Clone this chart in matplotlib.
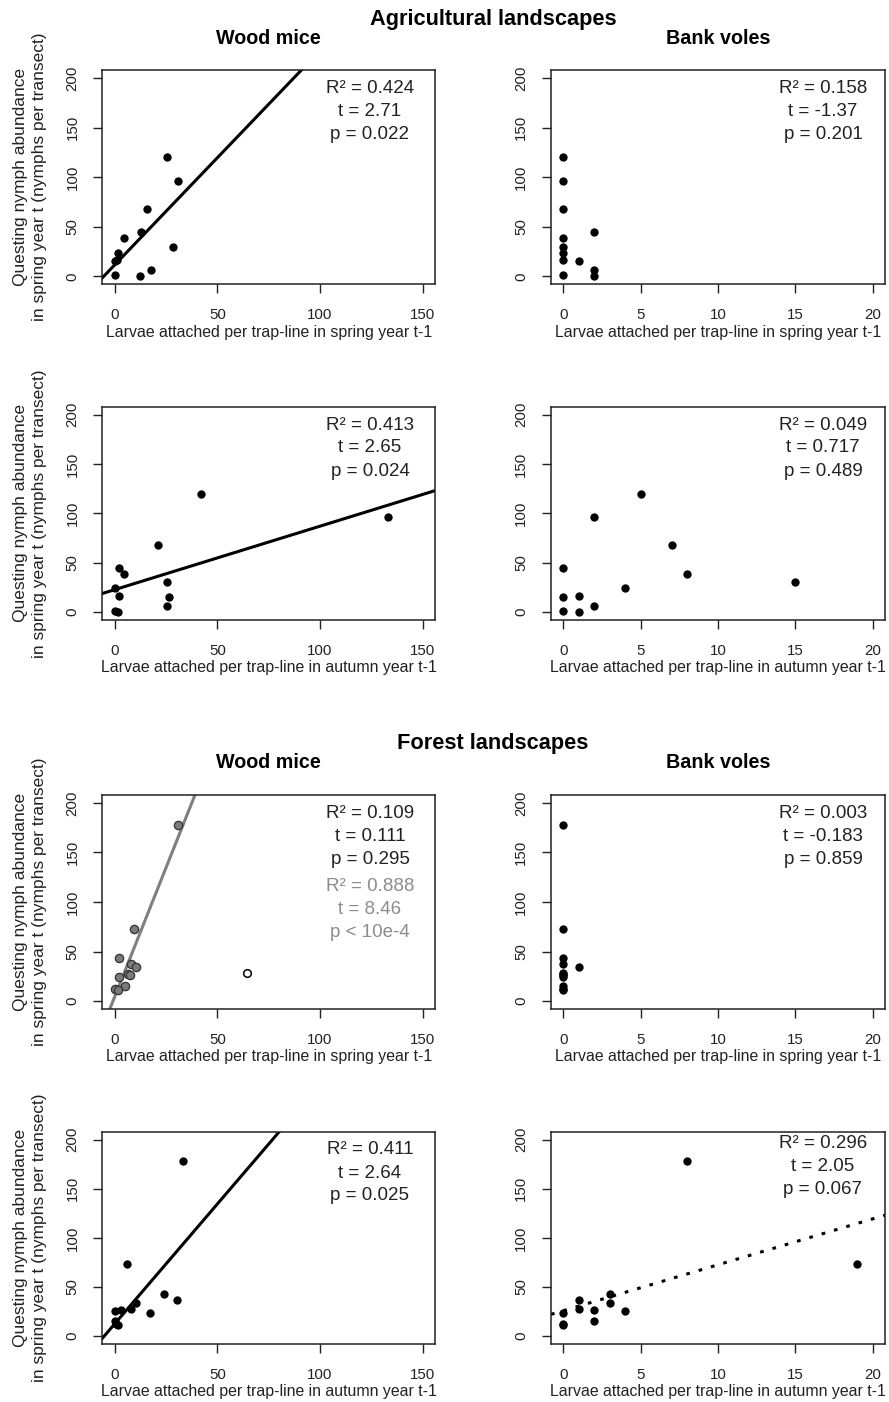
import matplotlib.pyplot as plt

plt.rcParams['font.family'] = ['Liberation Sans', 'DejaVu Sans']

W, H = 889, 1402

# questing nymphs per transect, one value per site
agri_nymphs = [120, 96, 68, 45, 39, 30, 24, 16, 15, 6, 1.5, 0]
forest_nymphs = [178, 73, 43, 37, 34, 28, 27, 26, 24, 15, 12, 11]

# larvae attached per trap-line in year t-1, same site order
agri_mice_spring = [25.5, 31, 16, 13, 4.5, 28.5, 1.5, 1, 0, 17.5, 0, 12.5]
agri_voles_spring = [0, 0, 0, 2, 0, 0, 0, 0, 1, 2, 0, 2]
agri_mice_autumn = [42.3, 133, 21, 2.3, 4.4, 25.5, 0, 2.3, 26.3, 25.5, 0, 1.6]
agri_voles_autumn = [5, 2, 7, 0, 8, 15, 4, 1, 0, 2, 0, 1]
forest_mice_spring = [31, 9.4, 2.3, 8, 10.3, 64.5, 6.5, 7.6, 2.3, 5.2, 0, 1.6]
forest_voles_spring = [0, 0, 0, 0, 1, 0, 0, 0, 0, 0, 0, 0]
forest_mice_autumn = [33.4, 6, 24, 30.5, 10.2, 8.1, 2.9, 0, 17.4, 0, 0.5, 1.6]
forest_voles_autumn = [8, 19, 3, 1, 3, 1, 2, 4, 0, 2, 0, 0]

# site dropped from the grey fit (forest, wood mice, spring)
forest_outlier = 5

# regression lines: intercept, slope
fit_agri_mice_spring = (11.5, 2.16)
fit_agri_mice_autumn = (22.7, 0.643)
fit_forest_mice_spring = (4.25, 5.21)
fit_forest_mice_autumn = (12.4, 2.44)
fit_forest_voles_autumn = (25.9, 4.67)

stats_agri_mice_spring = ["R² = 0.424", "t = 2.71", "p = 0.022"]
stats_agri_voles_spring = ["R² = 0.158", "t = -1.37", "p = 0.201"]
stats_agri_mice_autumn = ["R² = 0.413", "t = 2.65", "p = 0.024"]
stats_agri_voles_autumn = ["R² = 0.049", "t = 0.717", "p = 0.489"]
stats_forest_mice_spring = ["R² = 0.109", "t = 0.111", "p = 0.295"]
stats_forest_mice_spring_grey = ["R² = 0.888", "t = 8.46", "p < 10e-4"]
stats_forest_voles_spring = ["R² = 0.003", "t = -0.183", "p = 0.859"]
stats_forest_mice_autumn = ["R² = 0.411", "t = 2.64", "p = 0.025"]
stats_forest_voles_autumn = ["R² = 0.296", "t = 2.05", "p = 0.067"]

mice_ticks = [0, 50, 100, 150]
vole_ticks = [0, 5, 10, 15, 20]
nymph_ticks = [0, 50, 100, 150, 200]

xlab_spring = "Larvae attached per trap-line in spring year t-1"
xlab_autumn = "Larvae attached per trap-line in autumn year t-1"
ylab = "Questing nymph abundance\nin spring year t (nymphs per transect)"

cols = [(102.3, 435.0), (551.0, 885.0)]
rows = [(70.0, 284.3), (406.7, 620.0), (795.0, 1009.0), (1131.7, 1344.0)]

fig = plt.figure(figsize=(W / 100, H / 100), dpi=100)


def make_axes(r, c):
    x0, x1 = cols[c]
    y0, y1 = rows[r]
    ax = fig.add_axes([x0 / W, 1 - y1 / H, (x1 - x0) / W, (y1 - y0) / H])
    if c == 0:
        ax.set_xlim(-6, 156)
        ax.set_xticks(mice_ticks)
    else:
        ax.set_xlim(-0.8, 20.8)
        ax.set_xticks(vole_ticks)
    ax.set_ylim(-8, 208)
    ax.set_yticks(nymph_ticks)
    ax.set_yticklabels([str(v) for v in nymph_ticks], rotation=90, va='center')
    ax.tick_params(direction='out', length=6.5, width=1, labelsize=10.8,
                   color='#222222', labelcolor='#222222')
    ax.tick_params(axis='x', pad=10.5)
    ax.tick_params(axis='y', pad=10)
    for s in ax.spines.values():
        s.set_linewidth(1.1)
        s.set_color('#222222')
    ax.set_xlabel(xlab_spring if r % 2 == 0 else xlab_autumn, fontsize=11.4,
                  labelpad=2, color='#222222')
    if c == 0:
        fig.text(30 / W, 1 - (y0 + y1) / 2 / H, ylab, rotation=90,
                 ha='center', va='center', fontsize=12.5, linespacing=1.3,
                 color='#222222')
    return ax


def dots(ax, x, y):
    ax.scatter(x, y, s=36, color='black', zorder=3, linewidths=0)


def stats(ax, r, c, lines, top=18.3, color='#222222'):
    y0, y1 = rows[r]
    x0, x1 = cols[c]
    cx = 370 if c == 0 else 823
    for i, t in enumerate(lines):
        fy = 1 - (top + 23 * i) / (y1 - y0)
        ax.text((cx - x0) / (x1 - x0), fy, t, transform=ax.transAxes,
                ha='center', va='center', fontsize=13.5, color=color)


def fit_line(ax, fit, **kw):
    a, b = fit
    ax.axline((0, a), slope=b, **kw)


# agricultural landscapes
ax = make_axes(0, 0)
dots(ax, agri_mice_spring, agri_nymphs)
fit_line(ax, fit_agri_mice_spring, color='black', lw=2.2)
stats(ax, 0, 0, stats_agri_mice_spring)

ax = make_axes(0, 1)
dots(ax, agri_voles_spring, agri_nymphs)
stats(ax, 0, 1, stats_agri_voles_spring)

ax = make_axes(1, 0)
dots(ax, agri_mice_autumn, agri_nymphs)
fit_line(ax, fit_agri_mice_autumn, color='black', lw=2.2)
stats(ax, 1, 0, stats_agri_mice_autumn)

ax = make_axes(1, 1)
dots(ax, agri_voles_autumn, agri_nymphs)
stats(ax, 1, 1, stats_agri_voles_autumn)

# forest landscapes
ax = make_axes(2, 0)
keep = [i for i in range(len(forest_nymphs)) if i != forest_outlier]
ax.scatter([forest_mice_spring[i] for i in keep], [forest_nymphs[i] for i in keep],
           s=36, facecolor='#7a7a7a', edgecolor='#333333', linewidths=0.9, zorder=3)
ax.scatter([forest_mice_spring[forest_outlier]], [forest_nymphs[forest_outlier]],
           s=30, facecolor='white', edgecolor='black', linewidths=1.1, zorder=3)
fit_line(ax, fit_forest_mice_spring, color='#7f7f7f', lw=2.2)
stats(ax, 2, 0, stats_forest_mice_spring)
stats(ax, 2, 0, stats_forest_mice_spring_grey, top=91.7, color='#8c8c8c')

ax = make_axes(2, 1)
dots(ax, forest_voles_spring, forest_nymphs)
stats(ax, 2, 1, stats_forest_voles_spring)

ax = make_axes(3, 0)
dots(ax, forest_mice_autumn, forest_nymphs)
fit_line(ax, fit_forest_mice_autumn, color='black', lw=2.2)
stats(ax, 3, 0, stats_forest_mice_autumn)

ax = make_axes(3, 1)
dots(ax, forest_voles_autumn, forest_nymphs)
fit_line(ax, fit_forest_voles_autumn, color='black', lw=2.2,
         linestyle=(0, (1.2, 3)))
stats(ax, 3, 1, stats_forest_voles_autumn, top=11.7)

# headings
fig.text(493 / W, 1 - 19 / H, "Agricultural landscapes", ha='center',
         va='center', fontsize=15.7, fontweight='bold')
fig.text(493 / W, 1 - 743 / H, "Forest landscapes", ha='center',
         va='center', fontsize=15.7, fontweight='bold')
for yy in (39, 763):
    fig.text(268 / W, 1 - yy / H, "Wood mice", ha='center', va='center',
             fontsize=14.2, fontweight='bold')
    fig.text(718 / W, 1 - yy / H, "Bank voles", ha='center', va='center',
             fontsize=14.2, fontweight='bold')

fig.savefig('out.png', dpi=100)
